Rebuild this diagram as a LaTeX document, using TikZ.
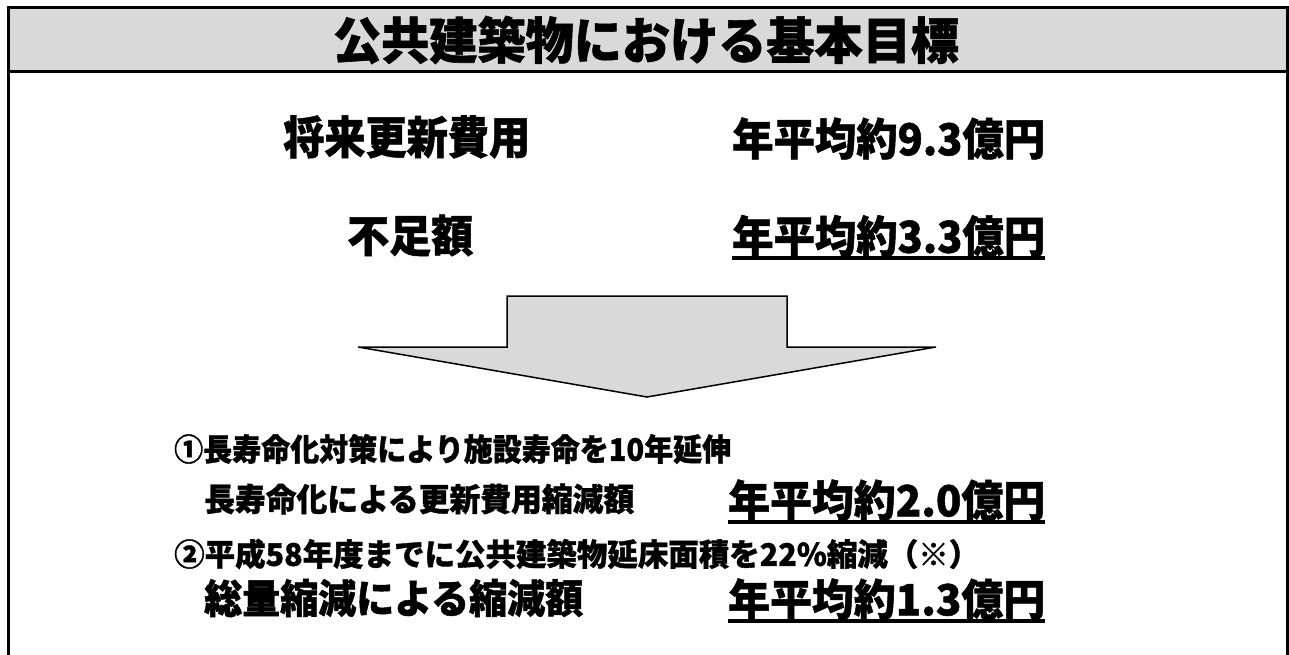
\documentclass[tikz,border=0pt]{standalone}
\usepackage{fontspec}
\setmainfont{Noto Sans CJK JP}[BoldFeatures={FakeBold=1.2}]
\usepackage{graphicx}
\definecolor{hdr}{HTML}{D9D9D9}
\newcommand\fitw[2]{\resizebox{#1pt}{\height}{#2}}
\newcommand\fsz[1]{\fontsize{#1}{#1}\selectfont}
\begin{document}
\begin{tikzpicture}[x=1pt,y=-1pt,
  txt/.style={inner sep=0pt, anchor=west},
  frameline/.style={line width=3pt},
  uline/.style={line width=3.5pt},
  arrowshape/.style={line width=1.5pt, fill=hdr, line join=miter}]
\useasboundingbox (0,0) rectangle (1289,655);
% header band and frame
\fill[hdr] (8.5,7.5) rectangle (1287.5,71.5);
\draw[frameline] (8.5,662) -- (8.5,7.5) -- (1287.5,7.5) -- (1287.5,662);
\draw[frameline] (8.5,71.5) -- (1287.5,71.5);
% title
\node[txt, anchor=center, font=\bfseries\fsz{50}] (title) at (646,40) {\fitw{626}{公共建築物における基本目標}};
% upper rows
\node[txt, font=\bfseries\fsz{45}] (cost) at (283,137) {\fitw{247}{将来更新費用}};
\node[txt, font=\bfseries\fsz{44}] (costv) at (732,138.5) {\fitw{313}{年平均約9.3億円}};
\node[txt, font=\bfseries\fsz{44}] (short) at (347,235.5) {\fitw{126}{不足額}};
\node[txt, font=\bfseries\fsz{44}] (shortv) at (732,236) {\fitw{313}{年平均約3.3億円}};
\draw[uline] ([yshift=-1pt]shortv.south west) -- ([yshift=-1pt]shortv.south east);
% block arrow
\draw[arrowshape] (507,296) -- (787,296) -- (787,347) -- (936,347) -- (647,397) -- (358,347) -- (507,347) -- cycle;
% lower rows
\node[txt, font=\bfseries\fsz{31}] (m1) at (174,449) {\fitw{557}{①長寿命化対策により施設寿命を10年延伸}};
\node[txt, font=\bfseries\fsz{32}] (m1l) at (204,499) {\fitw{430}{長寿命化による更新費用縮減額}};
\node[txt, font=\bfseries\fsz{43}] (m1v) at (728,500) {\fitw{317}{年平均約2.0億円}};
\draw[uline] ([yshift=-1pt]m1v.south west) -- ([yshift=-1pt]m1v.south east);
\node[txt, font=\bfseries\fsz{31}] (m2) at (174,554) {\fitw{805}{②平成58年度までに公共建築物延床面積を22\%縮減（※）}};
\node[txt, font=\bfseries\fsz{40}] (m2l) at (204,598) {\fitw{379}{総量縮減による縮減額}};
\node[txt, font=\bfseries\fsz{43}] (m2v) at (728,599) {\fitw{317}{年平均約1.3億円}};
\draw[uline] ([yshift=-1pt]m2v.south west) -- ([yshift=-1pt]m2v.south east);
\end{tikzpicture}
\end{document}
